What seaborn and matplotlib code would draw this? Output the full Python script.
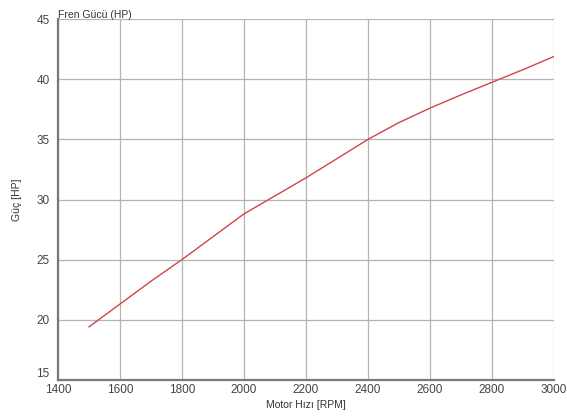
import seaborn as sns
import pandas as pd
import matplotlib.pyplot as plt

# engine speed (RPM) and brake power (HP)
rpm = [1500, 1600, 1700, 1800, 1900, 2000, 2100, 2200, 2300, 2400, 2500,
       2600, 2700, 2800, 2900, 3000]
power = [19.4, 21.3, 23.2, 25.0, 26.9, 28.8, 30.3, 31.8, 33.4, 35.0, 36.4,
         37.6, 38.7, 39.75, 40.8, 41.9]
x_ticks = [1400, 1600, 1800, 2000, 2200, 2400, 2600, 2800, 3000]
y_ticks = [15, 20, 25, 30, 35, 40, 45]

sns.set_theme(style="whitegrid")
plt.rcParams['font.family'] = ['Liberation Sans', 'DejaVu Sans']

df = pd.DataFrame({"rpm": rpm, "power": power})

fig = plt.figure(figsize=(5.67, 4.17), dpi=100)
ax = fig.add_axes([0.102, 0.089, 0.875, 0.865])
sns.lineplot(data=df, x="rpm", y="power", ax=ax, color="#d0444a", linewidth=1.0)

ax.set_xlim(1400, 3000)
ax.set_ylim(15, 45)
ax.set_xticks(x_ticks)
ax.set_yticks(y_ticks)
ax.tick_params(axis="both", labelsize=8.5, colors="#444444", length=0)
ax.tick_params(axis="x", pad=3)
ax.tick_params(axis="y", pad=6)
ax.grid(True, color="#b4b4b4", linewidth=0.9)

# bottom y label sits a little higher, as in the original
ax.get_yticklabels()[0].set_va("bottom")

for side in ["top", "right"]:
    ax.spines[side].set_visible(False)
for side in ["left", "bottom"]:
    ax.spines[side].set_color("#7a7a7a")
    ax.spines[side].set_linewidth(1.6)

ax.set_xlabel("Motor Hızı [RPM]", fontsize=7.5, color="#333333", labelpad=3)
ax.set_ylabel("Güç [HP]", fontsize=7.5, color="#333333", labelpad=10)
ax.set_title("Fren Gücü (HP)", fontsize=7.5, color="#333333", loc="left", pad=1)

fig.savefig("out.png", dpi=100)
